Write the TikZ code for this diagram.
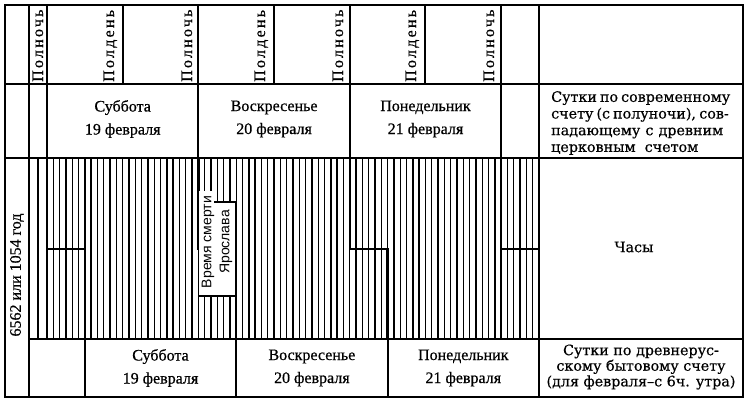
\documentclass[tikz,border=0pt]{standalone}
\usepackage{fontspec}
\setmainfont{Liberation Serif}[FakeBold=0.6]
\newfontfamily\hdrfont{Liberation Serif}[FakeBold=0.6,LetterSpace=14]
\newfontfamily\notefont{DejaVu Serif}[FakeBold=0.5]
\newfontfamily\boxfont{Liberation Sans}
\begin{document}
\begin{tikzpicture}[x=1pt,y=-1pt,
  frameline/.style={line width=2pt},
  hourline/.style={line width=1.4pt},
  dayline/.style={line width=2.3pt},
  hdr/.style={rotate=90,anchor=base west,inner sep=0pt,font=\hdrfont\fontsize{16}{16}\selectfont},
  daylabel/.style={align=center,inner sep=0pt,font=\fontsize{16}{23}\selectfont},
  notetext/.style={inner sep=0pt,font=\notefont\fontsize{14.3}{16.7}\selectfont},
]
\useasboundingbox (0,0) rectangle (750,404);
% hour hatch
\foreach \k in {0,...,77} { \draw[hourline] ({47+\k*6.3077},158) -- ({47+\k*6.3077},339); }
\draw[hourline] (38,158) -- (38,339);
% day boundaries (midnight -> 6 a.m. steps)
\foreach \m in {47,198.38,349.77,501.15} {
  \draw[dayline] (\m,158) -- (\m,249) -- ({\m+37.85},249) -- ({\m+37.85},339);
}
% frame
\draw[frameline] (5,5) rectangle (743,397);
\draw[frameline] (5,84) -- (743,84);
\draw[frameline] (5,158) -- (743,158);
\draw[frameline] (29,339) -- (743,339);
\draw[frameline] (29,5) -- (29,397);
\draw[frameline] (539,5) -- (539,397);
\foreach \x in {47,122.69,198.38,274.08,349.77,425.46,501.15} { \draw[frameline] (\x,5) -- (\x,84); }
\foreach \x in {47,198.38,349.77,501.15} { \draw[frameline] (\x,84) -- (\x,158); }
\foreach \x in {84.85,236.23,387.62} { \draw[frameline] (\x,339) -- (\x,397); }
% header labels
\node[hdr] (h1) at (43,82) {Полночь};
\node[hdr] (h2) at (114,82) {Полдень};
\node[hdr] (h3) at (192,82) {Полночь};
\node[hdr] (h4) at (265,82) {Полдень};
\node[hdr] (h5) at (343,82) {Полночь};
\node[hdr] (h6) at (416,82) {Полдень};
\node[hdr] (h7) at (494,82) {Полночь};
% modern days
\node[daylabel] (m1) at (122.7,119) {Суббота\\19 февраля};
\node[daylabel] (m2) at (274.1,119) {Воскресенье\\20 февраля};
\node[daylabel] (m3) at (425.5,119) {Понедельник\\21 февраля};
% old russian days
\node[daylabel] (o1) at (160.5,368) {Суббота\\19 февраля};
\node[daylabel] (o2) at (311.9,368) {Воскресенье\\20 февраля};
\node[daylabel] (o3) at (463.3,368) {Понедельник\\21 февраля};
% year
\node[rotate=90,inner sep=0pt,font=\fontsize{16}{16}\selectfont] (year) at (17,275) {6562 или 1054 год};
% death box
\fill[white] (198.38,191) -- (214,191) -- (214,202) -- (236.23,202) -- (236.23,296) -- (198.38,296) -- cycle;
\draw[line width=1.7pt] (214,202) -- (236.23,202) -- (236.23,296) -- (198.38,296) -- (198.38,188);
\node[rotate=90,align=center,inner sep=0pt,font=\boxfont\fontsize{14}{18}\selectfont] (death) at (217,242) {Время смерти\\Ярослава};
% right column
\node[notetext,anchor=north west,align=left] (modern) at (551,91)
  {\makebox[176pt][s]{Сутки по современному}\\
   \makebox[176pt][s]{счету (с полуночи), сов-}\\
   \makebox[172pt][s]{падающему с древним}\\
   церковным\ \ счетом};
\node[notetext] (hours) at (634,247) {Часы};
\node[notetext,align=center,font=\notefont\fontsize{14.3}{15.6}\selectfont] (ancient) at (641,367)
  {Сутки\ по\ древнерус-\\скому бытовому счету\\(для февраля–с 6ч. утра)};
\end{tikzpicture}
\end{document}
